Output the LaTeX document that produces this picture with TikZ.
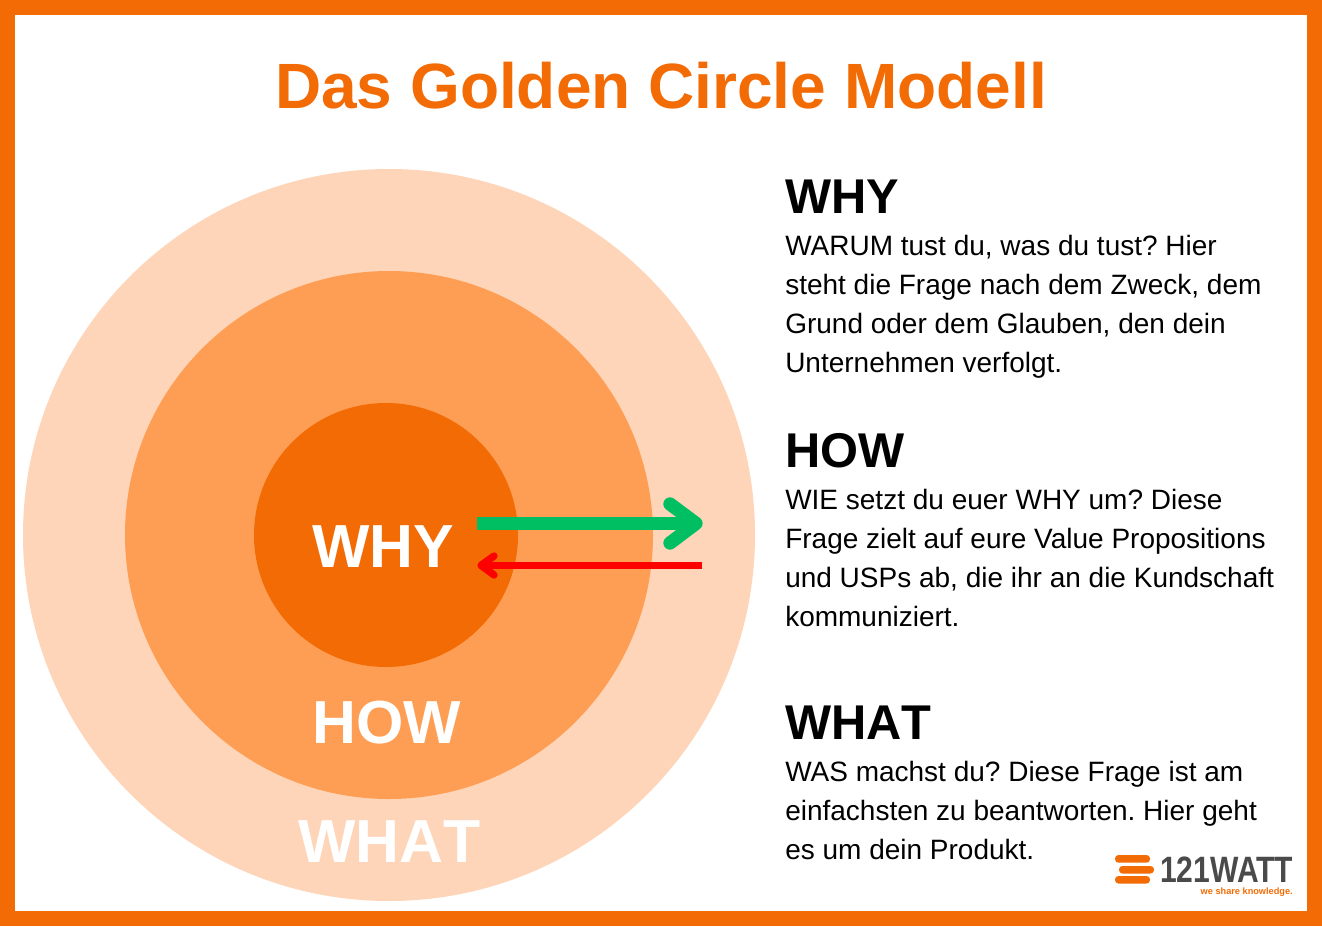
\documentclass[tikz,border=0pt]{standalone}
\usepackage{fontspec}
\setmainfont{Liberation Sans}
\newfontfamily\nokern[Kerning=Off]{Liberation Sans}
\definecolor{frameor}{HTML}{F36B04}
\definecolor{outerc}{HTML}{FED5B8}
\definecolor{midc}{HTML}{FE9E55}
\definecolor{greenar}{HTML}{00BF63}
\definecolor{redar}{HTML}{FF0000}
\definecolor{logogray}{HTML}{4A4A4A}
\newcommand{\fs}[1]{\fontsize{#1}{#1}\selectfont}
\tikzset{
 x=0.75pt,y=-0.75pt,
 disc/.style={circle,inner sep=0pt,outer sep=0pt,minimum size=#1*0.75pt},
 ringlabel/.style={anchor=base,inner sep=0pt,text=white,font=\nokern\fs{45.6}\bfseries},
 headlabel/.style={anchor=base west,inner sep=0pt,text=black,font=\nokern\fs{36.6}\bfseries},
 bodytext/.style={anchor=north west,inner sep=0pt,align=left,text=black,font=\fontsize{21}{29.25}\selectfont\frenchspacing},
 bar/.style={fill=frameor,rounded corners=2.6pt},
}
\begin{document}
\begin{tikzpicture}
\useasboundingbox (0,0) rectangle (1322,926);
\fill[frameor] (0,0) rectangle (1322,926);
\fill[white] (15,15) rectangle (1307,911);
\node[disc=732,fill=outerc] (outer) at (389,535) {};
\node[disc=528,fill=midc] (middle) at (389,535) {};
\node[disc=264,fill=frameor] (inner) at (386,535) {};
\node[anchor=base,inner sep=0pt,text=frameor,font=\fs{48}\bfseries] (title) at (661,108) {Das Golden Circle Modell};
\node[ringlabel] (lwhy) at (383,567) {WHY};
\node[ringlabel] (lhow) at (386.5,743) {HOW};
\node[ringlabel] (lwhat) at (389.5,862) {WHAT};
\node[headlabel] (hwhy) at (785,213) {WHY};
\node[bodytext] (bwhy) at (785,235) {WARUM tust du, was du tust? Hier\\steht die Frage nach dem Zweck, dem\\Grund oder dem Glauben, den dein\\Unternehmen verfolgt.};
\node[headlabel] (hhow) at (785,467) {HOW};
\node[bodytext] (bhow) at (785,489) {WIE setzt du euer WHY um? Diese\\Frage zielt auf eure Value Propositions\\und USPs ab, die ihr an die Kundschaft\\kommuniziert.};
\node[headlabel] (hwhat) at (785,739) {WHAT};
\node[bodytext] (bwhat) at (785,761) {WAS machst du? Diese Frage ist am\\einfachsten zu beantworten. Hier geht\\es um dein Produkt.};
% arrows
\coordinate (gs) at (477,523.4); \coordinate (gt) at (696,523.4);
\coordinate (gu) at (670,504); \coordinate (gd) at (670,543);
\coordinate (rs) at (702,565.3); \coordinate (rt) at (481,565.3);
\coordinate (ru) at (494,556); \coordinate (rd) at (494,575);
\draw[greenar,line width=10pt] (gs) -- (gt);
\draw[greenar,line width=10pt,line cap=round,line join=round] (gu) -- (gt) -- (gd);
\draw[redar,line width=5.5pt] (rs) -- (rt);
\draw[redar,line width=5.5pt,line cap=round,line join=round] (ru) -- (rt) -- (rd);
% logo
\fill[bar] (1115,855) rectangle (1150,862.7);
\fill[bar] (1119,866) rectangle (1154,873.5);
\fill[bar] (1115,876) rectangle (1150,883.5);
\node[anchor=base west,inner sep=0pt,text=logogray,font=\fs{27.5}\bfseries,xscale=0.82] (logo) at (1160,882) {121WATT};
\node[anchor=base east,inner sep=0pt,text=frameor,font=\fs{6.9}\bfseries] (tag) at (1293,894) {we share knowledge.};
\end{tikzpicture}
\end{document}
